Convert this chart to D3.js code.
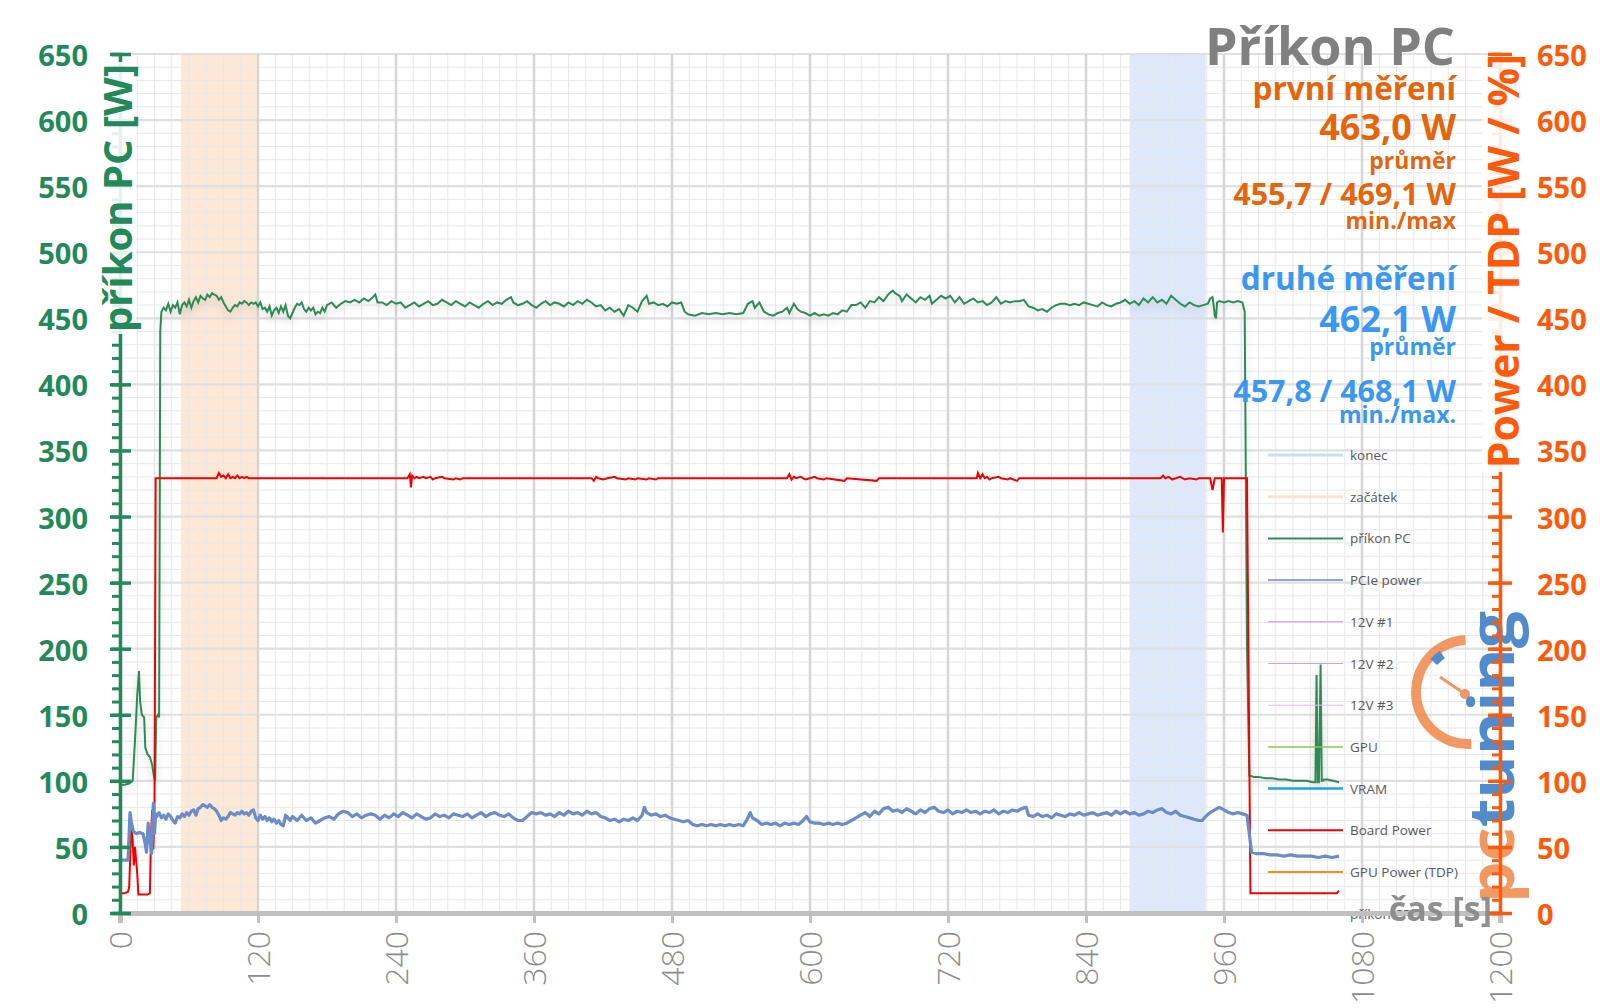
<!DOCTYPE html>
<html><head><meta charset="utf-8">
<script src="https://cdn.jsdelivr.net/npm/d3@7"></script>
<style>
body{margin:0;background:#fff}
svg{display:block}
text{font-family:"Open Sans","Noto Sans",sans-serif}
</style>
</head><body>
<svg id="chart" width="1600" height="1008"></svg>
<script>
// ---------------- DATA ----------------
const xTicks = [0,120,240,360,480,600,720,840,960,1080,1200];
const yTicks = [0,50,100,150,200,250,300,350,400,450,500,550,600,650];
const bandStart = [53,120];      // "začátek"
const bandEnd = [878,944];       // "konec"

const pcT = [0,4,8,11,13,15,16.5,17.5,19,21,22,24,26,28,29.5,30.5,31.5,33,34,35,36,38,40,42,44,46,48,50,52,54,56,58,60,62,64,66,68,70,72,74,76,78,80,82,84,86,88,90,92,94,96,98,100,102,104,106,108,110,112,114,116,118,120,122,124,126,128,130,132,134,136,138,140,142,144,146,148,150,152,154,156,158,160,162,164,166,168,170,172,174,176,178,180,184,188,192,196,200,204,208,212,216,220,222,224,228,232,236,240,244,248,252,256,260,264,268,272,276,280,284,288,292,296,300,304,308,312,316,320,324,328,332,336,340,342,346,350,354,358,362,366,370,374,378,382,386,390,394,398,402,406,410,414,418,422,426,430,434,438,442,446,450,454,458,460,464,468,472,476,480,484,488,491,494,500,506,512,518,524,530,536,542,546,550,552,556,560,564,568,572,576,580,582,586,589,592,596,600,604,608,612,616,620,624,628,632,636,640,644,648,652,656,660,664,668,672,674,678,680,684,688,692,696,700,704,706,710,714,718,722,726,730,734,738,742,746,750,754,758,762,766,770,774,778,782,786,790,794,798,802,806,810,814,818,822,826,830,834,838,842,846,850,854,858,862,866,870,874,878,882,886,890,894,898,902,906,910,914,918,922,926,930,934,938,942,946,948,950,951,952,953,954,956,960,964,968,972,976,978,980,982,986,990,996,1002,1008,1014,1020,1026,1032,1037,1039.5,1040.5,1041.5,1042.5,1044,1045,1046,1047,1050,1055,1060];
const pcW = [97,97,98,100,130,165,183,160,150,148,125,120,118,112,103,100,148,150,148,440,455,458,456,461,455,460,458,462,453,460,462,459,464,458,463,466,462,467,465,464,468,466,469,468,467,464,466,462,459,456,455,458,460,459,462,461,463,462,460,462,461,462,459,462,457,458,455,459,452,456,458,454,459,455,460,452,450,454,458,461,460,462,457,455,458,456,458,453,455,454,458,455,460,462,458,461,463,462,464,462,465,463,466,468,462,462,460,463,461,462,458,460,462,459,461,463,460,461,464,462,460,463,461,459,462,460,458,461,463,460,462,461,464,466,462,460,461,463,460,458,461,463,460,462,461,459,462,460,463,461,464,462,459,460,456,458,455,457,452,460,458,455,463,467,461,462,460,461,459,462,461,462,455,453,452,454,453,454,453,454,453,454,461,463,458,462,455,453,452,454,455,458,454,461,457,455,454,452,454,452,453,452,454,453,456,455,460,460,462,458,463,462,466,463,468,471,469,467,463,468,465,462,466,464,467,461,464,467,465,467,462,466,461,463,465,462,463,460,462,466,461,463,462,463,463,464,459,458,456,457,455,458,460,461,461,460,461,460,462,461,460,459,462,460,459,461,462,464,461,463,460,465,462,466,462,464,461,467,464,461,459,462,460,459,460,461,465,466,460,452,450,462,463,462,463,462,463,462,455,200,104,103,103,102,102,101,101,100,100,100,99,99,180,99,99,188,100,100,101,101,100,99];

const cpuT = [0,3,7,8.7,10,11.6,14,17,20,22,23,24.5,26,27.5,28.5,29,30,31,32,34,36,38,40,42,44,46,48,50,52,54,56,58,60,62,64,66,68,70,72,74,76,78,80,82,84,86,88,90,92,94,96,98,100,102,104,106,108,110,112,114,116,118,120,122,124,126,128,130,132,134,136,138,140,142,144,146,148,150,154,158,162,166,170,174,178,182,186,190,194,198,202,206,210,214,218,222,226,230,234,238,242,246,250,254,258,262,266,270,274,278,282,286,290,294,298,302,306,310,314,318,322,326,330,334,338,342,346,350,354,358,362,366,370,374,378,382,386,390,394,398,402,406,410,414,418,422,426,430,434,438,442,446,450,454,456,458,462,466,470,474,478,482,486,490,494,498,502,506,510,514,518,522,526,530,534,538,542,546,548,550,554,558,562,566,570,574,578,582,586,590,594,597,600,604,608,612,616,620,624,628,632,636,640,644,648,652,656,660,664,668,672,676,680,684,688,692,696,700,704,708,712,716,720,724,728,732,736,740,744,748,752,756,760,764,768,772,776,780,784,788,790,794,798,802,806,810,814,818,822,826,830,834,838,842,846,850,854,858,862,866,870,874,878,882,886,890,894,898,902,906,910,914,918,922,926,930,934,938,941,944,948,952,956,960,964,968,972,976,980,982,984,988,994,1000,1006,1012,1018,1024,1030,1036,1042,1048,1054,1060];
const cpuW = [40,40,40,76,68,62,60,61,60,52,46,68,55,45,70,83,60,75,73,76,72,74,71,75,73,70,68,73,72,75,73,76,74,77,78,74,79,80,82,81,80,82,80,79,77,74,70,72,71,73,76,75,74,76,75,77,75,76,74,77,78,72,70,74,71,73,70,72,69,71,68,70,67,66,74,72,70,73,70,74,70,72,68,70,72,73,71,75,77,76,73,75,72,74,75,74,71,74,72,75,73,76,74,72,75,73,71,72,75,73,74,72,75,74,73,75,72,74,76,73,75,76,74,73,75,72,70,70,73,76,75,76,74,75,73,76,74,77,75,76,74,77,75,76,73,72,70,71,69,71,70,72,70,74,80,76,74,75,73,74,72,71,70,69,70,67,66,67,66,67,66,67,66,67,66,67,66,72,76,72,70,67,68,67,68,66,68,67,68,67,70,73,69,68,68,67,68,67,68,67,68,70,72,74,76,73,77,75,79,80,77,78,76,79,77,75,78,76,79,80,77,76,78,75,77,76,78,76,77,75,77,76,78,75,77,76,78,77,79,80,74,73,75,73,74,72,75,74,73,75,74,76,74,75,76,74,75,76,74,77,75,77,75,76,74,75,77,76,78,79,76,75,77,74,73,72,71,70,70,73,76,78,80,78,76,75,76,75,74,60,46,45,45,44,44,43,44,43,43,43,42,43,42,43];

const boardT = [0,4,7,8,9,10,11,12,13,14,15,16,20,24,26,27,28,29,30,31,60,84,86,88,90,92,94,96,98,100,102,104,106,108,110,112,250,252,253,254,256,258,260,264,266,270,272,274,280,282,290,292,296,298,410,412,414,416,420,424,430,432,440,442,448,450,458,460,466,468,580,582,584,586,588,592,596,600,604,606,612,614,630,632,658,660,745,746,748,750,752,754,756,758,764,766,772,774,780,782,905,907,909,912,915,918,922,926,930,936,938,948,950,952,958,959,960,980,983,1000,1020,1040,1058,1060];
const boardW = [15,15,16,20,45,68,55,36,50,40,30,14,14,14,15,60,78,48,80,329,329,329,333,330,331,329,332,329,330,329,331,329,330,329,330,329,329,332,322,331,329,330,329,330,329,330,328,329,330,329,328,329,328,329,329,327,330,329,328,329,330,329,328,329,328,329,328,329,328,329,329,332,328,330,329,330,328,329,330,329,328,329,327,329,327,329,329,333,329,332,329,330,328,329,330,329,328,329,327,329,329,331,329,330,328,329,330,328,329,328,329,329,320,329,329,288,329,329,15,15,15,15,15,17];

const legendNames = ["konec","začátek","příkon PC","PCIe power","12V #1","12V #2","12V #3","GPU","VRAM","Board Power","GPU Power (TDP)","příkon CPU"];

const titleText = "Příkon PC";
const run1 = ["první měření","463,0 W","průměr","455,7 / 469,1 W","min./max"];
const run2 = ["druhé měření","462,1 W","průměr","457,8 / 468,1 W","min./max."];

// ---------------- STYLE ----------------
const GREEN = "#23895a", ORANGE_AX = "#ff5a0a", ORANGE_TX = "#e4650c", BLUE_TX = "#3a98f2", GRAY = "#808080";
const legendColors = ["#c9def7","#fde3cf","#2e8b57","#7b7fd6","#c48fd8","#d39be0","#e3bdea","#92c64a","#1fa2e0","#e8000b","#f28e1c","#6b8cc7"];
const legendWidths = [3,3,2,1.5,1,1,1,1.5,2.5,2,2,3];

const svg = d3.select("#chart");
const x = d3.scaleLinear().domain([0,1200]).range([120,1500]);
const y = d3.scaleLinear().domain([0,650]).range([913,54]);

const defs = svg.append("defs");
const f = defs.append("filter").attr("id","glow").attr("x","-10%").attr("y","-10%").attr("width","120%").attr("height","130%");
f.append("feDropShadow").attr("dx",0).attr("dy",4).attr("stdDeviation",4).attr("flood-color","#000").attr("flood-opacity",0.18);

// bands
svg.append("rect").attr("x",x(bandStart[0])).attr("y",y(650)).attr("width",x(bandStart[1])-x(bandStart[0])).attr("height",y(0)-y(650)).attr("fill","#fde8d6");
svg.append("rect").attr("x",x(bandEnd[0])).attr("y",y(650)).attr("width",x(bandEnd[1])-x(bandEnd[0])).attr("height",y(0)-y(650)).attr("fill","#dde9fb");

// grid
const grid = svg.append("g");
grid.selectAll(".vmin").data(d3.range(0,1201,15)).join("line")
  .attr("x1",d=>x(d)).attr("x2",d=>x(d)).attr("y1",y(650)).attr("y2",y(0))
  .attr("stroke","#e8e8e8").attr("stroke-width",1);
grid.selectAll(".hmin").data(d3.range(0,651,10)).join("line")
  .attr("y1",d=>y(d)).attr("y2",d=>y(d)).attr("x1",x(0)).attr("x2",x(1200))
  .attr("stroke","#e8e8e8").attr("stroke-width",1);
grid.selectAll(".hmaj").data(yTicks).join("line")
  .attr("y1",d=>y(d)).attr("y2",d=>y(d)).attr("x1",x(0)).attr("x2",x(1200))
  .attr("stroke","#e0e0e0").attr("stroke-width",2.2);
grid.selectAll(".vmaj").data(xTicks).join("line")
  .attr("x1",d=>x(d)).attr("x2",d=>x(d)).attr("y1",y(650)).attr("y2",y(0))
  .attr("stroke","#d6d6d6").attr("stroke-width",2.5);

// watermark logo
const logo = svg.append("g").attr("opacity",0.88);
const cx = 1468, cy = 692;
logo.append("path").attr("transform",`translate(${cx},${cy})`)
  .attr("d",d3.arc().innerRadius(47).outerRadius(57).startAngle(-Math.PI*1.02).endAngle(-0.05)())
  .attr("fill","#f08a4e");
logo.append("path").attr("transform",`translate(${cx},${cy})`)
  .attr("d",d3.arc().innerRadius(41).outerRadius(50).startAngle(-0.85).endAngle(-0.6)())
  .attr("fill","#3b7cc4");
logo.append("line").attr("x1",1440).attr("y1",677).attr("x2",1465).attr("y2",694).attr("stroke","#f08a4e").attr("stroke-width",3);
logo.append("circle").attr("cx",1465).attr("cy",694).attr("r",5).attr("fill","#f08a4e");
const lt = logo.append("text").attr("transform","translate(1514,903) rotate(-90)")
  .attr("font-size",62).attr("font-weight",700).attr("font-family","DejaVu Sans")
  .attr("textLength",292).attr("lengthAdjust","spacingAndGlyphs");
lt.append("tspan").attr("fill","#f08a4e").text("pc");
lt.append("tspan").attr("fill","#3b7cc4").text("tuning");

// series
const line = d3.line().x(d=>x(d[0])).y(d=>y(d[1]));
svg.append("path").datum(d3.zip(pcT,pcW)).attr("d",line).attr("fill","none")
  .attr("stroke","#2e8b57").attr("stroke-width",2).attr("filter","url(#glow)");
svg.append("path").datum(d3.zip(boardT,boardW)).attr("d",line).attr("fill","none")
  .attr("stroke","#f00000").attr("stroke-width",2);
svg.append("path").datum(d3.zip(cpuT,cpuW)).attr("d",line).attr("fill","none")
  .attr("stroke","#6b8cc7").attr("stroke-width",3.2).attr("stroke-linejoin","round");

// legend
const lg = svg.append("g");
legendNames.forEach((n,i)=>{
  const ly = 455 + i*41.7;
  lg.append("line").attr("x1",1268).attr("x2",1343).attr("y1",ly).attr("y2",ly)
    .attr("stroke",legendColors[i]).attr("stroke-width",legendWidths[i]);
  lg.append("text").attr("x",1350).attr("y",ly).attr("dominant-baseline","central")
    .attr("font-size",13.5).attr("fill","#595959").text(n);
});

// x axis
const xAxis = svg.append("g").attr("transform",`translate(0,${y(0)})`)
  .call(d3.axisBottom(x).tickValues(xTicks).tickSize(10).tickFormat(d3.format("d")));
xAxis.select(".domain").attr("stroke","#c0c0c0").attr("stroke-width",5);
xAxis.selectAll(".tick line").attr("stroke","#c0c0c0").attr("stroke-width",3);
xAxis.selectAll(".tick text").attr("transform","rotate(-90)")
  .attr("x",-18).attr("y",0).attr("dy","0.36em").attr("text-anchor","end")
  .attr("font-size",32).attr("font-weight",300).attr("fill","#8c8c8c")
  .attr("font-family","Open Sans");

// left axis
const lAx = svg.append("g").attr("transform",`translate(${x(0)},0)`);
lAx.call(d3.axisLeft(y).tickValues(d3.range(0,651,10)).tickSize(8).tickFormat(""));
lAx.selectAll(".tick line").attr("stroke",GREEN).attr("stroke-width",3);
lAx.select(".domain").attr("stroke",GREEN).attr("stroke-width",3.5);
const lAx2 = svg.append("g").attr("transform",`translate(${x(0)},0)`)
  .call(d3.axisLeft(y).tickValues(yTicks).tickSize(10));
lAx2.select(".domain").remove();
lAx2.selectAll(".tick line").attr("x1",11).attr("x2",-10).attr("stroke",GREEN).attr("stroke-width",3.5);
lAx2.selectAll(".tick text").attr("x",-32).attr("dy",null).attr("dominant-baseline","central")
  .attr("font-size",29).attr("font-weight",700).attr("fill",GREEN).attr("font-family","Open Sans");

// right axis
const rAx = svg.append("g").attr("transform",`translate(${x(1200)},0)`);
rAx.call(d3.axisLeft(y).tickValues(d3.range(0,651,10)).tickSize(8).tickFormat(""));
rAx.selectAll(".tick line").attr("stroke",ORANGE_AX).attr("stroke-width",3);
rAx.select(".domain").attr("stroke",ORANGE_AX).attr("stroke-width",3.5);
const rAx2 = svg.append("g").attr("transform",`translate(${x(1200)},0)`)
  .call(d3.axisRight(y).tickValues(yTicks).tickSize(12));
rAx2.select(".domain").remove();
rAx2.selectAll(".tick line").attr("x1",-12).attr("x2",12).attr("stroke",ORANGE_AX).attr("stroke-width",3.5);
rAx2.selectAll(".tick text").attr("x",37).attr("dy",null).attr("dominant-baseline","central")
  .attr("text-anchor","start").attr("font-size",29).attr("font-weight",700).attr("fill",ORANGE_AX).attr("font-family","Open Sans");

// axis titles (with light backing over the axis line)
svg.append("rect").attr("x",96).attr("y",62).attr("width",40).attr("height",272).attr("fill","#fff").attr("opacity",0.88);
svg.append("text").attr("transform","translate(116,198) rotate(-90)")
  .attr("text-anchor","middle").attr("dominant-baseline","central")
  .attr("font-size",40).attr("font-weight",700).attr("fill",GREEN).text("příkon PC [W]");
svg.append("rect").attr("x",1482).attr("y",56).attr("width",40).attr("height",416).attr("fill","#fff").attr("opacity",0.88);
svg.append("text").attr("transform","translate(1502,261) rotate(-90)")
  .attr("text-anchor","middle").attr("dominant-baseline","central")
  .attr("font-size",42.5).attr("font-weight",700).attr("fill",ORANGE_AX).text("Power / TDP [W / %]");

svg.append("text").attr("x",1492).attr("y",921).attr("text-anchor","end")
  .attr("font-size",34).attr("font-weight",700).attr("fill","#8a8a8a").attr("opacity",0.95).text("čas [s]");

// title & stats
svg.append("text").attr("x",1455).attr("y",65).attr("text-anchor","end")
  .attr("font-size",52).attr("font-weight",700).attr("fill",GRAY).text(titleText);
const sizes = [31.5,36,23,30.5,23];
const base1 = [100,140,169,205,229];
const base2 = [290,332,355,402,423];
run1.forEach((t,i)=>svg.append("text").attr("x",1456).attr("y",base1[i]).attr("text-anchor","end")
  .attr("font-size",sizes[i]).attr("font-weight",700).attr("fill",ORANGE_TX).text(t));
run2.forEach((t,i)=>svg.append("text").attr("x",1456).attr("y",base2[i]).attr("text-anchor","end")
  .attr("font-size",sizes[i]).attr("font-weight",700).attr("fill",BLUE_TX).text(t));
</script>
</body></html>
